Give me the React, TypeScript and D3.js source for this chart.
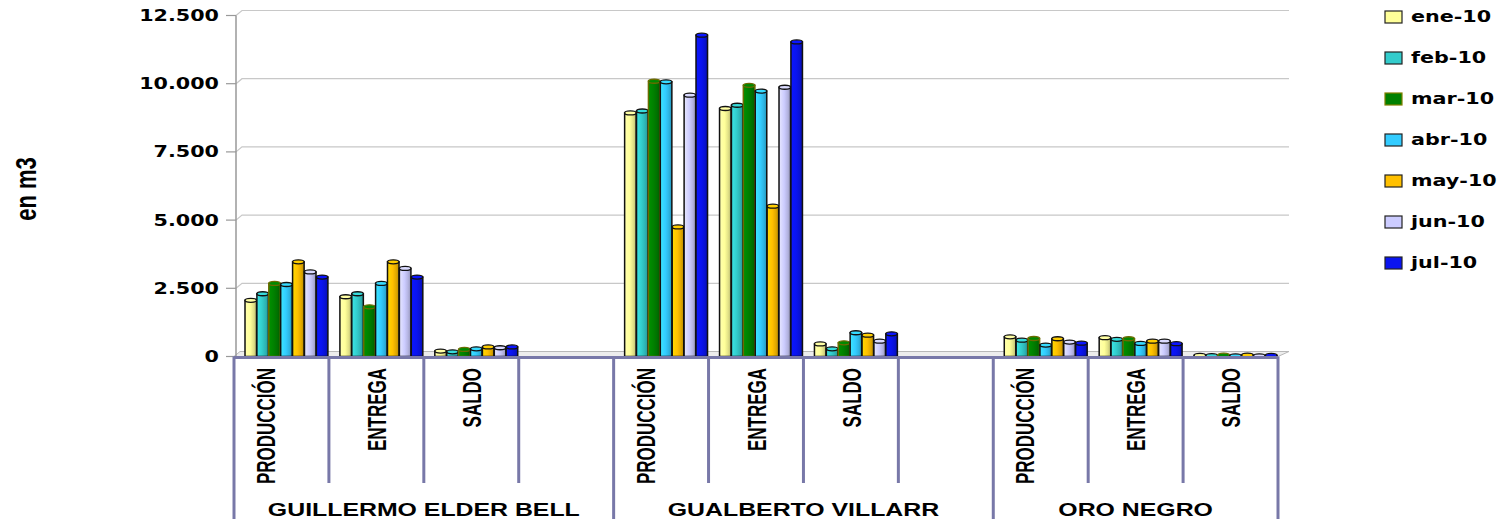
import * as d3 from 'd3';

const months = ['ene-10', 'feb-10', 'mar-10', 'abr-10', 'may-10', 'jun-10', 'jul-10'];
const monthColors = ['#FFFF99', '#33CCCC', '#008000', '#33CCFF', '#FFC000', '#CCCCFF', '#0A14F0'];
const groups = ['GUILLERMO ELDER BELL', 'GUALBERTO VILLARR', 'ORO NEGRO'];
const measures = ['PRODUCCIÓN', 'ENTREGA', 'SALDO'];
const yTicks = [0, 2500, 5000, 7500, 10000, 12500];

// values per month (ene..jul)
const guillermoProduccion = [2060, 2300, 2680, 2640, 3470, 3100, 2910];
const guillermoEntrega = [2190, 2300, 1820, 2680, 3470, 3230, 2910];
const guillermoSaldo = [200, 170, 260, 280, 350, 320, 350];
const gualbertoProduccion = [8930, 9000, 10090, 10070, 4750, 9580, 11780];
const gualbertoEntrega = [9090, 9210, 9940, 9730, 5510, 9870, 11530];
const gualbertoSaldo = [460, 280, 500, 870, 780, 560, 830];
const oroProduccion = [720, 600, 660, 420, 650, 530, 490];
const oroEntrega = [690, 630, 650, 480, 560, 560, 470];
const oroSaldo = [40, 30, 50, 20, 50, 20, 40];

const table: Record<string, number[][]> = {
  'GUILLERMO ELDER BELL': [guillermoProduccion, guillermoEntrega, guillermoSaldo],
  'GUALBERTO VILLARR': [gualbertoProduccion, gualbertoEntrega, gualbertoSaldo],
  'ORO NEGRO': [oroProduccion, oroEntrega, oroSaldo],
};

const W = 1507;
const H = 519;
const AXIS = '#7878A8';

const fmt = d3.formatLocale({ decimal: ',', thousands: '.', grouping: [3], currency: ['', ''] }).format(',');

export default function App() {
  // slots: each group gets its measures, plus an empty slot between groups
  const slots: { key: string; group: string; measure: string | null }[] = [];
  groups.forEach((g, gi) => {
    measures.forEach((m) => slots.push({ key: `${g}|${m}`, group: g, measure: m }));
    if (gi < groups.length - 1) slots.push({ key: `${g}|`, group: g, measure: null });
  });

  const x = d3.scaleBand().domain(slots.map((s) => s.key)).range([234, 1278]);
  const bw = x.bandwidth();
  const inner = d3.scaleBand().domain(months).range([11, bw - 1]).paddingInner(0.03);
  const y = d3.scaleLinear().domain([0, 12500]).range([356.5, 15.5]);
  const base = y(0);

  const depthX = 6;
  const depthY = 5;
  const plotRight = 1289;

  const boundaries = slots.map((s) => x(s.key) as number).concat([1278]);
  const groupStarts = groups.map((g) => x(`${g}|${measures[0]}`) as number).concat([1278]);

  const tickFont = { fontFamily: 'DejaVu Sans', fontWeight: 700, fontSize: 15 };

  return (
    <svg width={W} height={H} style={{ position: 'absolute', left: 0, top: 0, background: '#fff' }}>
      <defs>
        {monthColors.map((c, i) => {
          const col = d3.color(c)!;
          return (
            <linearGradient id={`g${i}`} key={i} x1="0" x2="1" y1="0" y2="0">
              <stop offset="0%" stopColor={col.brighter(0.35).formatHex()} />
              <stop offset="45%" stopColor={c} />
              <stop offset="75%" stopColor={col.darker(0.35).formatHex()} />
              <stop offset="100%" stopColor={col.darker(0.9).formatHex()} />
            </linearGradient>
          );
        })}
      </defs>

      {/* gridlines on back wall */}
      {yTicks.filter((t) => t > 0).map((t) => (
        <path
          key={t}
          d={`M236,${y(t)} L${236 + depthX},${y(t) - depthY} L${plotRight},${y(t) - depthY}`}
          fill="none"
          stroke="#C8C8C8"
          strokeWidth={1.2}
        />
      ))}

      {/* floor */}
      <path
        d={`M234,${base} L${234 + depthX},${base - depthY} L${plotRight},${base - depthY} L1278,${base} Z`}
        fill="#EDEDED"
        stroke="#B8B8B8"
        strokeWidth={1}
      />

      {/* y axis */}
      <line x1={236} x2={236} y1={y(12500)} y2={base} stroke="#999" strokeWidth={1.5} />
      {yTicks.map((t) => (
        <g key={t} transform={`translate(0,${y(t)})`}>
          <line x1={226} x2={236} stroke="#999" strokeWidth={1.2} />
          <text x={219} dy="0.36em" textAnchor="end" transform="translate(219,0) scale(1.38,1) translate(-219,0)" {...tickFont}>
            {fmt(t)}
          </text>
        </g>
      ))}

      {/* bars */}
      {slots.filter((s) => s.measure).map((s) => {
        const vals = table[s.group][measures.indexOf(s.measure as string)];
        const x0 = x(s.key) as number;
        return (
          <g key={s.key}>
            {vals.map((v, i) => {
              const bx = x0 + (inner(months[i]) as number);
              const w = inner.bandwidth();
              const top = y(v);
              const stroke = i === 2 ? '#6B6B00' : '#111';
              const c = d3.color(monthColors[i])!;
              return (
                <g key={i}>
                  <rect x={bx} y={top} width={w} height={Math.max(0, base - top)} fill={`url(#g${i})`} stroke={stroke} strokeWidth={1.5} />
                  <ellipse cx={bx + w / 2} cy={top} rx={w / 2} ry={2} fill={c.brighter(0.2).formatHex()} stroke={stroke} strokeWidth={1.3} />
                </g>
              );
            })}
          </g>
        );
      })}

      {/* category axis */}
      <line x1={234} x2={1278} y1={base + 1} y2={base + 1} stroke={AXIS} strokeWidth={3} />
      {boundaries.map((bx, i) => {
        const isGroup = groupStarts.includes(bx);
        return <line key={i} x1={bx} x2={bx} y1={base} y2={isGroup ? H : 483} stroke={AXIS} strokeWidth={3} />;
      })}

      {slots.filter((s) => s.measure).map((s) => {
        const cx = (x(s.key) as number) + bw / 2 + (s.measure === 'PRODUCCIÓN' ? -16 : 0);
        return (
          <text
            key={s.key}
            transform={`translate(${cx},368) scale(1.55,1) rotate(-90)`}
            y={6.2}
            textAnchor="end"
            fontFamily="Liberation Sans"
            fontWeight={700}
            fontSize={17}
          >
            {s.measure}
          </text>
        );
      })}

      {groups.map((g, gi) => {
        const cx = (groupStarts[gi] + groupStarts[gi + 1]) / 2;
        return (
          <text
            key={g}
            transform={`translate(${cx},516) scale(1.42,1)`}
            textAnchor="middle"
            fontFamily="Liberation Sans"
            fontWeight={700}
            fontSize={17.5}
          >
            {g}
          </text>
        );
      })}

      {/* axis title */}
      <text
        transform="translate(36,189) scale(1.3,1) rotate(-90)"
        textAnchor="middle"
        fontFamily="Liberation Sans"
        fontWeight={700}
        fontSize={22}
      >
        en m3
      </text>

      {/* legend */}
      {months.map((m, i) => {
        const ly = 17 + i * 41;
        return (
          <g key={m}>
            <rect x={1385} y={ly - 6} width={17} height={12} fill={monthColors[i]} stroke={i === 2 ? '#808000' : '#222'} strokeWidth={1.2} />
            <text x={1411} y={ly} dy="0.36em" transform={`translate(1411,0) scale(1.38,1) translate(-1411,0)`} {...tickFont}>
              {m}
            </text>
          </g>
        );
      })}
    </svg>
  );
}
